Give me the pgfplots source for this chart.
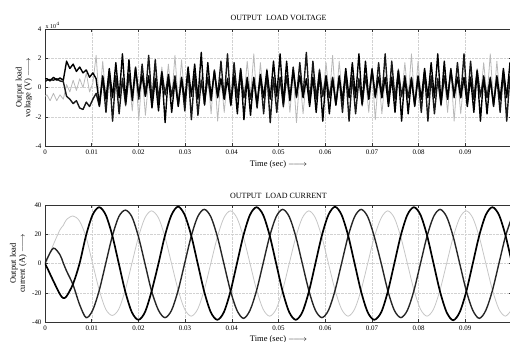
\documentclass[border=0pt]{standalone}
\usepackage{fontspec}
\setmainfont{Liberation Serif}
\usepackage{pgfplots}
\pgfplotsset{compat=1.18}
\usepackage{pgfplotstable}

% output load voltage, in units of 10^4 V
\pgfplotstableread{
t g b1 b2
0 -0.6 0.6 0.4
0.00040 -0.5 0.6 0.5
0.00110 -0.9 0.45 0.55
0.00181 -0.4 0.7 0.5
0.00251 -0.9 0.5 0.6
0.00321 -0.5 0.65 0.45
0.00392 -0.8 0.5 0.4
0.00462 0.2 1.8 -0.6
0.00532 -0.3 1.3 -0.8
0.00603 0.5 1.6 -1.1
0.00673 -0.2 1.1 -0.9
0.00743 0.6 1.4 -1.4
0.00814 0.0 1.0 -1.5
0.00884 1.0 1.2 -1.0
0.00954 -0.3 0.7 -1.3
0.01025 0.3 1.0 -0.8
0.01095 2.2 0.6 -0.4
0.01165 -1.1 -1.2 -1.3
0.01236 1.8 0.8 0.7
0.01306 -0.8 -0.8 -1.7
0.01376 1.2 1.3 1.1
0.01447 -0.6 -0.7 -2.3
0.01517 0.7 1.7 0.8
0.01587 -0.7 -0.7 -1.8
0.01658 0.7 2.3 0.6
0.01728 -1.3 -1.0 -1.2
0.01798 0.6 1.9 0.9
0.01869 -1.6 -0.9 -0.7
0.01939 1.0 1.3 1.4
0.02009 -2.2 -0.5 -0.8
0.02080 0.9 0.8 1.6
0.02150 -1.9 -0.6 -0.6
0.02220 0.5 0.8 2.2
0.02291 -1.1 -1.4 -1.0
0.02361 0.9 0.6 1.9
0.02431 -0.7 -1.6 -0.9
0.02502 1.4 1.0 1.1
0.02572 -0.6 -2.4 -0.5
0.02642 1.6 0.9 0.8
0.02713 -0.8 -1.7 -0.6
0.02783 2.2 0.5 0.8
0.02853 -1.0 -1.3 -1.2
0.02924 1.9 0.7 0.6
0.02994 -0.9 -0.9 -1.6
0.03064 1.1 1.4 1.2
0.03135 -0.5 -0.6 -2.2
0.03205 0.8 1.6 0.9
0.03275 -0.6 -0.8 -1.9
0.03346 0.8 2.4 0.5
0.03416 -1.2 -1.2 -1.1
0.03486 0.8 1.7 0.7
0.03557 -1.8 -0.7 -0.9
0.03627 1.2 1.1 1.2
0.03697 -2.3 -0.7 -0.6
0.03768 0.7 0.6 1.8
0.03838 -1.7 -0.8 -0.8
0.03908 0.7 0.6 2.3
0.03979 -1.3 -1.2 -1.2
0.04049 0.7 0.8 1.7
0.04119 -0.9 -1.8 -0.7
0.04190 1.2 1.2 1.3
0.04260 -0.8 -2.2 -0.7
0.04330 1.8 0.7 0.6
0.04401 -0.6 -1.9 -0.8
0.04471 2.3 0.7 0.6
0.04541 -1.2 -1.1 -1.4
0.04612 1.7 0.9 0.8
0.04682 -0.7 -0.7 -1.8
0.04752 1.3 1.2 1.0
0.04823 -0.7 -0.8 -2.4
0.04893 0.6 1.8 0.7
0.04963 -0.8 -0.6 -1.7
0.05034 0.6 2.3 0.7
0.05104 -1.4 -1.1 -1.3
0.05174 0.7 1.8 0.8
0.05245 -1.7 -0.9 -0.8
0.05315 1.0 1.2 1.4
0.05385 -2.4 -0.6 -0.7
0.05456 0.8 0.8 1.7
0.05526 -1.8 -0.7 -0.6
0.05596 0.6 0.6 2.4
0.05667 -1.1 -1.3 -1.1
0.05737 0.8 0.7 1.8
0.05807 -0.8 -1.7 -0.8
0.05878 1.3 1.0 1.2
0.05948 -0.7 -2.3 -0.6
0.06018 1.7 0.8 0.8
0.06089 -0.7 -1.8 -0.7
0.06159 2.2 0.6 0.7
0.06229 -1.1 -1.2 -1.2
0.06300 1.8 0.8 0.7
0.06370 -0.8 -0.9 -1.7
0.06440 1.2 1.3 1.1
0.06511 -0.6 -0.7 -2.3
0.06581 0.7 1.7 0.8
0.06651 -0.7 -0.7 -1.8
0.06722 0.7 2.3 0.6
0.06792 -1.3 -1.1 -1.2
0.06862 0.7 1.8 0.8
0.06933 -1.7 -0.8 -0.8
0.07003 1.1 1.2 1.3
0.07073 -2.2 -0.6 -0.7
0.07144 0.8 0.7 1.7
0.07214 -1.8 -0.7 -0.7
0.07284 0.6 0.7 2.3
0.07355 -1.2 -1.3 -1.1
0.07425 0.8 0.7 1.8
0.07495 -0.8 -1.7 -0.8
0.07566 1.3 1.1 1.2
0.07636 -0.7 -2.3 -0.6
0.07706 1.7 0.8 0.7
0.07777 -0.7 -1.8 -0.7
0.07847 2.3 0.6 0.7
0.07917 -1.1 -1.2 -1.3
0.07988 1.8 0.8 0.7
0.08058 -0.8 -0.8 -1.7
0.08128 1.2 1.3 1.1
0.08199 -0.6 -0.7 -2.3
0.08269 0.7 1.7 0.8
0.08339 -0.7 -0.7 -1.8
0.08410 0.7 2.3 0.6
0.08480 -1.3 -1.1 -1.2
0.08550 0.7 1.8 0.8
0.08621 -1.7 -0.8 -0.8
0.08691 1.1 1.2 1.3
0.08761 -2.3 -0.6 -0.7
0.08832 0.8 0.7 1.7
0.08902 -1.8 -0.7 -0.7
0.08972 0.6 0.7 2.3
0.09043 -1.2 -1.3 -1.1
0.09113 0.8 0.7 1.8
0.09183 -0.8 -1.7 -0.8
0.09254 1.3 1.1 1.2
0.09324 -0.7 -2.3 -0.6
0.09394 1.7 0.8 0.7
0.09465 -0.7 -1.8 -0.7
0.09535 2.3 0.6 0.7
0.09605 -1.1 -1.2 -1.3
0.09676 1.8 0.8 0.7
0.09746 -0.8 -0.8 -1.7
0.09816 1.2 1.3 1.1
0.09887 -0.6 -0.7 -2.3
0.09957 0.7 1.7 0.8
0.10027 -0.7 -0.7 -1.8
}\voltdata

% output load current (A)
\pgfplotstableread{
t l b d
0 0 0 0
0.0004 1.5 -2.5 3
0.0018 13 -12 10.5
0.0032 23 -21 6
0.0039 26 -23.6 0.5
0.0046 30 -22.5 -5
0.0060 32.5 -14 -14.5
0.0074 29 0 -28
0.0088 18 19.3 -37
0.0102 0 33.3 -32
0.0116 -18 38.5 -18.5
0.0130 -31.2 33.3 0
0.0144 -35.5 19.3 18.5
0.0158 -31.2 0 32
0.0172 -18 -19.3 36.5
0.0186 0 -33.3 32
0.0200 18 -38.5 18.5
0.0214 31.2 -33.3 0
0.0228 36 -19.3 -18.5
0.0243 31.2 0 -32
0.0257 18 19.3 -37
0.0271 0 33.3 -32
0.0285 -18 38.9 -18.5
0.0299 -31.2 33.3 0
0.0313 -36 19.3 18.5
0.0327 -31.2 0 32
0.0341 -18 -19.3 37
0.0355 0 -33.3 32
0.0369 18 -38.5 18.5
0.0383 31.2 -33.3 0
0.0397 36 -19.3 -18.5
0.0411 31.2 0 -32
0.0425 18 19.3 -37.5
0.0439 0 33.3 -32
0.0453 -18 38.5 -18.5
0.0467 -31.2 33.3 0
0.0481 -36 19.3 18.5
0.0495 -31.2 0 32
0.0509 -18 -19.3 37
0.0523 0 -33.3 32
0.0537 18 -38.5 18.5
0.0551 31.2 -33.3 0
0.0565 36 -19.3 -18.5
0.0579 31.2 0 -32
0.0593 18 19.3 -37
0.0607 0 33.3 -32
0.0621 -18 38.8 -18.5
0.0635 -31.2 33.3 0
0.0649 -36 19.3 18.5
0.0663 -31.2 0 32
0.0677 -18 -19.3 37
0.0691 0 -33.3 32
0.0705 18 -38.5 18.5
0.0720 31.2 -33.3 0
0.0734 36 -19.3 -18.5
0.0748 31.2 0 -32
0.0762 18 19.3 -37
0.0776 0 33.3 -32
0.0790 -18 38.5 -18.5
0.0804 -31.2 33.3 0
0.0818 -36 19.3 18.5
0.0832 -31.2 0 32
0.0846 -18 -19.3 37
0.0860 0 -33.3 32
0.0874 18 -38.8 18.5
0.0888 31.2 -33.3 0
0.0902 36 -19.3 -18.5
0.0916 31.2 0 -32
0.0930 18 19.3 -37.5
0.0944 0 33.3 -32
0.0958 -18 38.5 -18.5
0.0972 -31.2 33.3 0
0.0986 -36 19.3 18.5
0.1000 -31.2 0 32
}\curdata

\pgfplotsset{
  common/.style={
    scale only axis, width=467bp, height=117bp,
    xmin=0, xmax=0.1,
    xtick={0,0.01,0.02,0.03,0.04,0.05,0.06,0.07,0.08,0.09},
    xticklabels={0,0.01,0.02,0.03,0.04,0.05,0.06,0.07,0.08,0.09},
    grid=major,
    major grid style={gray!35, densely dotted, line width=0.4pt},
    axis line style={black!80, line width=0.6pt},
    tick style={black!80, line width=0.5pt},
    major tick length=3bp,
    ticklabel style={font=\fontsize{7}{8}\selectfont},
    label style={font=\fontsize{8.5}{9}\selectfont},
    title style={font=\fontsize{8}{9}\selectfont, at={(0.5,1)}, anchor=south},
    xlabel={Time (sec) $\relbar\joinrel\relbar\joinrel\rightarrow$},
    ylabel style={anchor=center, align=center},
    clip mode=individual,
  }
}

\begin{document}
\begin{tikzpicture}
\path[use as bounding box] (0,0) rectangle (510bp,-342bp);

\begin{axis}[common,
  at={(45bp,-146bp)}, anchor=south west,
  ymin=-4, ymax=4, ytick={-4,-2,0,2,4}, yticklabels={-4,-2,0,2,4},
  title={OUTPUT\ \ LOAD VOLTAGE},
  title style={yshift=-1bp},
  xlabel style={at={(axis description cs:0.5,-0.155)}, anchor=center},
  ylabel style={at={(axis description cs:-0.045,0.5)}},
  ylabel={Output load\\voltage (V) $\relbar\joinrel\relbar\joinrel\rightarrow$},
]
\addplot[gray!55, line width=0.8pt, line join=round] table[x=t,y=g]{\voltdata};
\addplot[black!90, line width=1.4pt, line join=round] table[x=t,y=b2]{\voltdata};
\addplot[black, line width=1.4pt, line join=round] table[x=t,y=b1]{\voltdata};
\node[anchor=south west, font=\fontsize{6}{7}\selectfont, inner sep=0.5pt] at (rel axis cs:0,1) {x 10$^{4}$};
\end{axis}

\begin{axis}[common,
  at={(45bp,-322bp)}, anchor=south west,
  ymin=-40, ymax=40, ytick={-40,-20,0,20,40}, yticklabels={-40,-20,0,20,40},
  title={OUTPUT\ \ LOAD CURRENT},
  title style={yshift=-3bp},
  xlabel style={at={(axis description cs:0.5,-0.145)}, anchor=center},
  ylabel style={at={(axis description cs:-0.057,0.5)}},
  ylabel={Output load\\current (A) $\relbar\joinrel\relbar\joinrel\rightarrow$},
]
\addplot[gray!45, line width=0.8pt, smooth] table[x=t,y=l]{\curdata};
\addplot[black!85, line width=1.4pt, smooth] table[x=t,y=d]{\curdata};
\addplot[black, line width=1.7pt, smooth] table[x=t,y=b]{\curdata};
\end{axis}
\end{tikzpicture}
\end{document}
